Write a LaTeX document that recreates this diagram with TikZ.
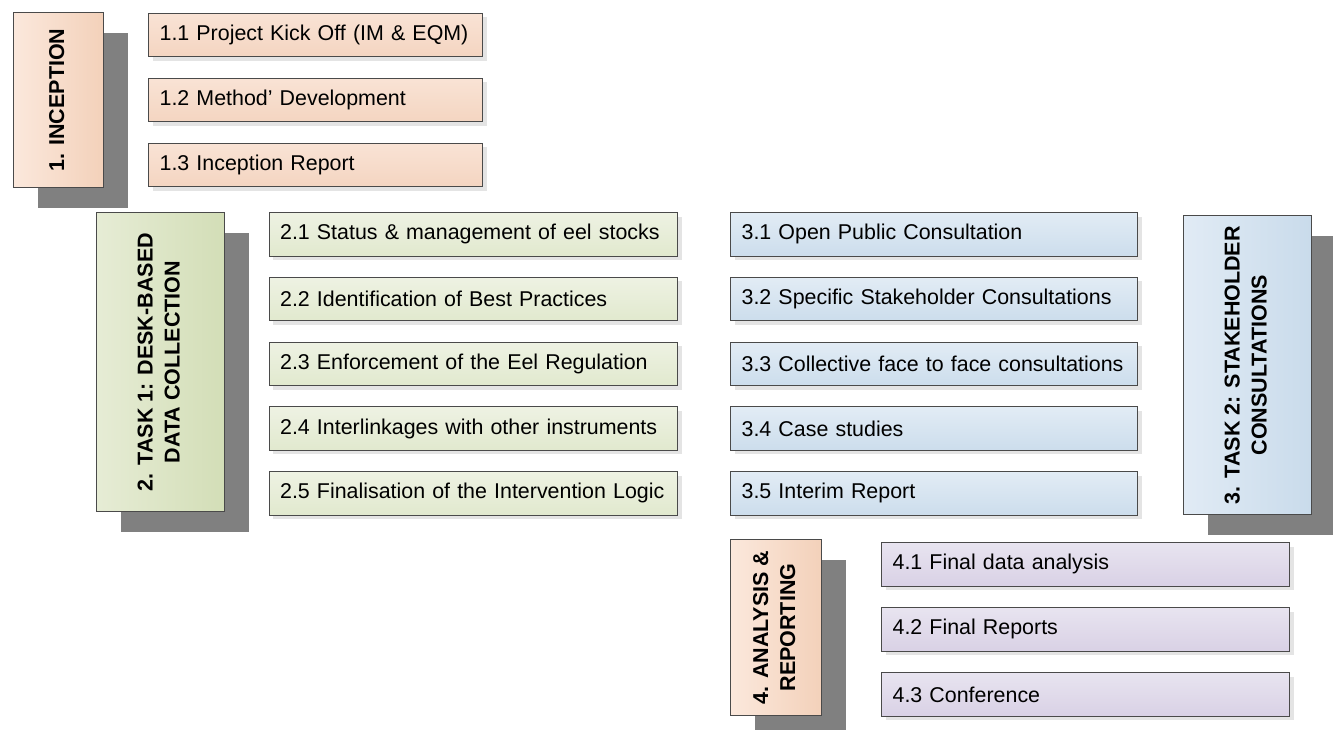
\documentclass[tikz,border=0pt]{standalone}
\usepackage{fontspec}
\setmainfont{Liberation Sans}
\usetikzlibrary{shadows}
\definecolor{rimgray}{HTML}{4A4A4A}
\definecolor{boxshadow}{HTML}{808080}
\definecolor{itemshadow}{HTML}{E4E4E4}
\definecolor{peachL}{HTML}{FBE8DC}
\definecolor{peachR}{HTML}{F3D1BA}
\definecolor{peachT}{HTML}{F9E3D5}
\definecolor{peachB}{HTML}{F4D5C1}
\definecolor{greenL}{HTML}{E6ECD5}
\definecolor{greenR}{HTML}{D3DEB7}
\definecolor{greenT}{HTML}{EEF2E3}
\definecolor{greenB}{HTML}{E1E9CE}
\definecolor{blueL}{HTML}{E1EBF5}
\definecolor{blueR}{HTML}{C9DBEB}
\definecolor{blueT}{HTML}{E2ECF5}
\definecolor{blueB}{HTML}{CCDDEC}
\definecolor{lilacT}{HTML}{E8E4F0}
\definecolor{lilacB}{HTML}{D9D1E5}

\begin{document}
\begin{tikzpicture}[x=1pt,y=-1pt,
  phase/.style={draw=rimgray, line width=1.2pt, anchor=north west, inner sep=0pt,
    font=\fontsize{21.5}{27}\selectfont\bfseries,
    general shadow={fill=boxshadow, shadow xshift=24pt, shadow yshift=-20pt}},
  task/.style={draw=rimgray, line width=1.2pt, anchor=north west, inner xsep=11pt,
    inner ysep=0pt, minimum height=43.5pt, align=left,
    font=\fontsize{21.4}{25}\selectfont,
    general shadow={fill=itemshadow, shadow xshift=4pt, shadow yshift=-4pt}}]
 \useasboundingbox (0,0) rectangle (1333,729);
 \clip (0,0) rectangle (1333,729);

 \node[phase, left color=peachL, right color=peachR, minimum width=90pt, minimum height=175pt] (inception) at (13,12)
   {\rotatebox{90}{\begin{tabular}{@{}c@{}}1. INCEPTION\end{tabular}}};
 \node[task, top color=peachT, bottom color=peachB, text width=312pt] (t11) at (148,12.5) {1.1 Project Kick Off (IM \& EQM)};
 \node[task, top color=peachT, bottom color=peachB, text width=312pt] (t12) at (148,77.5) {1.2 Method’ Development};
 \node[task, top color=peachT, bottom color=peachB, text width=312pt] (t13) at (148,142.5) {1.3 Inception Report};

 \node[phase, left color=greenL, right color=greenR, minimum width=128pt, minimum height=299pt] (desk) at (96,212)
   {\rotatebox{90}{\begin{tabular}{@{}c@{}}2. TASK 1: DESK-BASED\\DATA COLLECTION\end{tabular}}};
 \node[task, top color=greenT, bottom color=greenB, text width=386.5pt] (t21) at (268.5,212) {2.1 Status \& management of eel stocks};
 \node[task, top color=greenT, bottom color=greenB, text width=386.5pt] (t22) at (268.5,276.75) {2.2 Identification of Best Practices};
 \node[task, top color=greenT, bottom color=greenB, text width=386.5pt] (t23) at (268.5,341.5) {2.3 Enforcement of the Eel Regulation};
 \node[task, top color=greenT, bottom color=greenB, text width=386.5pt] (t24) at (268.5,406.25) {2.4 Interlinkages with other instruments};
 \node[task, top color=greenT, bottom color=greenB, text width=386.5pt] (t25) at (268.5,471) {2.5 Finalisation of the Intervention Logic};

 \node[task, top color=blueT, bottom color=blueB, text width=385pt] (t31) at (730,212) {3.1 Open Public Consultation};
 \node[task, top color=blueT, bottom color=blueB, text width=385pt] (t32) at (730,276.75) {3.2 Specific Stakeholder Consultations};
 \node[task, top color=blueT, bottom color=blueB, text width=385pt] (t33) at (730,341.5) {3.3 Collective face to face consultations};
 \node[task, top color=blueT, bottom color=blueB, text width=385pt] (t34) at (730,406.25) {3.4 Case studies};
 \node[task, top color=blueT, bottom color=blueB, text width=385pt] (t35) at (730,471) {3.5 Interim Report};
 \node[phase, left color=blueL, right color=blueR, minimum width=128pt, minimum height=299pt] (stake) at (1183,215)
   {\rotatebox{90}{\begin{tabular}{@{}c@{}}3. TASK 2: STAKEHOLDER\\CONSULTATIONS\end{tabular}}};
 %%%%%%%%%%%%%%%%%%%%%%%%%%%%%%%%%%%
 \node[phase, left color=peachL, right color=peachR, minimum width=91pt, minimum height=176pt] (analysis) at (730,539)
   {\rotatebox{90}{\begin{tabular}{@{}c@{}}4. ANALYSIS \&\\REPORTING\end{tabular}}};
 \node[task, top color=lilacT, bottom color=lilacB, text width=386pt] (t41) at (881,542) {4.1 Final data analysis};
 \node[task, top color=lilacT, bottom color=lilacB, text width=386pt] (t42) at (881,607) {4.2 Final Reports};
 \node[task, top color=lilacT, bottom color=lilacB, text width=386pt] (t43) at (881,672) {4.3 Conference};
\end{tikzpicture}
\end{document}
